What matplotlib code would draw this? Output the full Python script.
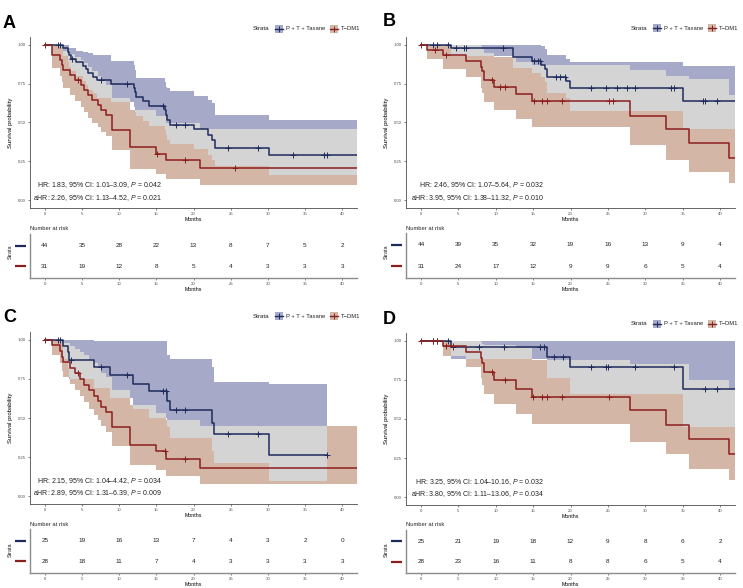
import matplotlib as mpl
import matplotlib.pyplot as plt
import numpy as np
from matplotlib.lines import Line2D
from matplotlib.patches import Rectangle

W, H = 743, 588

BLUE = "#1f2b5c"
RED = "#8b1e1e"
BLUE_FILL = "#a7a9c9"
RED_FILL = "#d4b6a7"
OVERLAP = "#d4d4d4"
INK = "#4d4d4d"

MONTH_TICKS = [0, 5, 10, 15, 20, 25, 30, 35, 40]
STRATA = ["P + T + Taxane", "T\u2212DM1"]

# ---- panel A ----
A_PTT_T = [2.4, 3.1, 3.3, 3.5, 4.2, 5.1, 5.5, 5.8, 6.5, 7.0, 8.9, 12.0, 12.1, 12.2, 13.2,
           14.0, 16.1, 16.3, 16.5, 16.8, 20.0, 22.0, 22.5, 22.9, 30.1]
A_PTT_S = [.977, .955, .932, .909, .886, .864, .841, .818, .795, .773, .75, .72, .695, .665,
           .636, .607, .578, .548, .519, .485, .455, .42, .385, .337, .29]
A_PTT_LO = [.93, .89, .86, .83, .80, .77, .74, .71, .69, .66, .63, .60, .57, .54, .51, .48,
            .45, .42, .39, .36, .33, .29, .26, .22, .164]
A_PTT_HI = [1.0, 1.0, .98, .98, .96, .955, .955, .95, .935, .935, .895, .87, .84, .785, .785,
            .785, .76, .73, .72, .70, .67, .647, .625, .55, .515]
A_PTT_CENS = [1.74, 2.1, 3.66, 7.54, 11.1, 15.9, 17.6, 18.9, 24.6, 28.7, 33.4, 37.5, 37.9]
A_PTT_END = 42.0
A_TDM1_T = [0.94, 2.1, 2.3, 2.5, 3.4, 4.0, 4.8, 5.2, 5.8, 6.4, 7.2, 7.5, 8.2, 9.0, 11.5,
            15.0, 16.3, 20.9]
A_TDM1_S = [.935, .903, .871, .839, .806, .774, .742, .71, .677, .645, .613, .58, .548, .452,
            .34, .30, .26, .21]
A_TDM1_LO = [.85, .80, .76, .72, .68, .64, .60, .57, .53, .50, .47, .44, .41, .32, .20, .17,
             .135, .095]
A_TDM1_HI = [1.0, .99, .98, .96, .94, .92, .90, .88, .86, .83, .80, .77, .74, .66, .58, .54,
             .50, .455]
A_TDM1_CENS = [0.0, 4.4, 15.1, 18.9, 25.6]
A_TDM1_END = 42.0
A_RISK_PTT = [44, 35, 28, 22, 13, 8, 7, 5, 2]
A_RISK_TDM1 = [31, 19, 12, 8, 5, 4, 3, 3, 3]
A_HR = ["HR: 1.83, 95% CI: 1.01\u20133.09, $P$ = 0.042",
        "aHR: 2.26, 95% CI: 1.13\u20134.52, $P$ = 0.021"]

# ---- panel B ----
B_PTT_T = [4.0, 12.3, 14.9, 16.1, 16.6, 16.9, 19.4, 19.9, 35.1]
B_PTT_S = [.977, .92, .895, .87, .845, .79, .765, .72, .64]
B_PTT_LO = [.93, .85, .82, .79, .76, .69, .66, .574, .46]
B_PTT_HI = [1.0, 1.0, 1.0, .99, .97, .935, .91, .89, .865]
B_PTT_CENS = [1.56, 2.1, 3.66, 4.7, 5.8, 6.0, 11.0, 15.1, 15.7, 15.9, 18.1, 18.6, 19.2, 22.7,
              24.8, 26.2, 27.5, 28.6, 33.5, 33.8, 37.7, 38.0, 39.6]
B_PTT_END = 42.0
B_TDM1_T = [0.76, 2.9, 6.0, 8.0, 8.2, 8.4, 9.8, 12.7, 14.8, 27.9, 32.8, 35.9, 41.2]
B_TDM1_S = [.968, .935, .895, .86, .83, .775, .73, .685, .64, .545, .455, .365, .27]
B_TDM1_LO = [.91, .845, .79, .72, .69, .63, .58, .525, .468, .355, .26, .18, .11]
B_TDM1_HI = [1.0, 1.0, 1.0, .99, .975, .95, .92, .89, .87, .84, .80, .78, .675]
B_TDM1_CENS = [0.0, 1.9, 3.4, 9.5, 10.6, 11.2, 15.1, 16.2, 16.9, 18.9, 25.2, 25.7]
B_TDM1_END = 42.0
B_RISK_PTT = [44, 39, 35, 32, 19, 16, 13, 9, 4]
B_RISK_TDM1 = [31, 24, 17, 12, 9, 9, 6, 5, 4]
B_HR = ["HR: 2.46, 95% CI: 1.07\u20135.64, $P$ = 0.032",
        "aHR: 3.95, 95% CI: 1.38\u201311.32, $P$ = 0.010"]

# ---- panel C ----
C_PTT_T = [2.4, 3.1, 3.3, 6.6, 8.7, 11.9, 14.0, 16.5, 16.8, 22.5, 22.7, 30.1]
C_PTT_S = [.96, .92, .87, .825, .775, .72, .67, .61, .55, .47, .395, .265]
C_PTT_LO = [.88, .82, .75, .69, .63, .56, .50, .44, .37, .29, .21, .10]
C_PTT_HI = [1.0, 1.0, 1.0, .99, .99, .99, .99, .90, .88, .825, .73, .72]
C_PTT_CENS = [1.74, 2.1, 3.5, 7.5, 11.1, 15.9, 16.3, 17.7, 18.9, 24.6, 28.7, 38.0]
C_PTT_END = 38.0
C_TDM1_T = [0.94, 2.1, 2.3, 2.5, 3.4, 4.1, 4.7, 5.3, 6.0, 6.6, 7.2, 7.5, 8.2, 9.0, 11.5,
            15.0, 16.3, 20.9]
C_TDM1_S = [.964, .929, .893, .857, .821, .786, .75, .714, .679, .643, .607, .571, .536, .445,
            .325, .29, .24, .18]
C_TDM1_LO = [.90, .85, .80, .76, .72, .68, .64, .60, .56, .52, .49, .45, .41, .32, .20, .17,
             .13, .078]
C_TDM1_HI = [1.0, 1.0, .99, .98, .96, .94, .92, .90, .87, .85, .82, .79, .76, .68, .58, .53,
             .49, .45]
C_TDM1_CENS = [0.0, 4.4, 16.2, 18.9]
C_TDM1_END = 42.0
C_RISK_PTT = [25, 19, 16, 13, 7, 4, 3, 2, 0]
C_RISK_TDM1 = [28, 18, 11, 7, 4, 3, 3, 3, 3]
C_HR = ["HR: 2.15, 95% CI: 1.04\u20134.42, $P$ = 0.034",
        "aHR: 2.89, 95% CI: 1.31\u20136.39, $P$ = 0.009"]

# ---- panel D ----
D_PTT_T = [4.0, 16.9, 19.9, 35.1]
D_PTT_S = [.96, .895, .83, .69]
D_PTT_LO = [.885, .765, .66, .45]
D_PTT_HI = [1.0, 1.0, 1.0, 1.0]
D_PTT_CENS = [1.65, 2.1, 3.66, 4.3, 7.7, 11.1, 15.9, 16.4, 17.8, 19.0, 22.7, 24.8, 25.0,
              28.6, 33.8, 38.0, 39.6]
D_PTT_END = 42.0
D_TDM1_T = [2.9, 6.0, 8.0, 8.2, 8.4, 9.8, 12.7, 14.8, 27.9, 32.8, 35.9, 41.2]
D_TDM1_S = [.964, .928, .89, .855, .80, .75, .695, .643, .555, .46, .37, .275]
D_TDM1_LO = [.90, .835, .76, .72, .657, .594, .53, .468, .355, .277, .18, .11]
D_TDM1_HI = [1.0, 1.0, .995, .98, .975, .975, .955, .88, .85, .85, .75, .69]
D_TDM1_CENS = [0.0, 1.65, 2.1, 3.4, 4.3, 9.5, 11.2, 15.0, 16.2, 16.9, 18.9, 25.2]
D_TDM1_END = 42.0
D_RISK_PTT = [25, 21, 19, 18, 12, 9, 8, 6, 2]
D_RISK_TDM1 = [28, 23, 16, 11, 8, 8, 6, 5, 4]
D_HR = ["HR: 3.25, 95% CI: 1.04\u201310.16, $P$ = 0.032",
        "aHR: 3.80, 95% CI: 1.11\u201313.06, $P$ = 0.034"]

mpl.rcParams.update(
    {
        "font.family": ["Liberation Sans", "DejaVu Sans"],
        "mathtext.fontset": "custom",
        "mathtext.rm": "Liberation Sans",
        "mathtext.it": "Liberation Sans:italic",
        "axes.spines.top": False,
        "axes.spines.right": False,
        "axes.edgecolor": INK,
        "axes.linewidth": 0.6,
    }
)


def box(l, t, r, b):
    """Pixel box (left, top, right, bottom) -> figure fraction rect."""
    return [l / W, 1 - b / H, (r - l) / W, (b - t) / H]


def step_at(t, v, end, x):
    tt = np.r_[0.0, t]
    vv = np.r_[1.0, v]
    x = np.asarray(x, dtype=float)
    out = vv[np.searchsorted(tt, x, side="right") - 1]
    return np.where(x > end + 1e-9, np.nan, out)


def draw_km(ax, groups, hr_lines, hr_x):
    # confidence ribbons
    for g in groups:
        tt = np.r_[0.0, g["t"], g["end"]]
        lo = np.r_[1.0, g["lo"], g["lo"][-1]]
        hi = np.r_[1.0, g["hi"], g["hi"][-1]]
        ax.fill_between(tt, lo, hi, step="post", color=g["fill"], lw=0, zorder=1)
    # overlap of both ribbons in grey
    b, r = groups
    grid = np.unique(np.r_[0.0, b["t"], b["end"], r["t"], r["end"]])
    lo = np.maximum(step_at(b["t"], b["lo"], b["end"], grid), step_at(r["t"], r["lo"], r["end"], grid))
    hi = np.minimum(step_at(b["t"], b["hi"], b["end"], grid), step_at(r["t"], r["hi"], r["end"], grid))
    hi = np.maximum(hi, lo)
    ax.fill_between(grid, lo, hi, step="post", color=OVERLAP, lw=0, zorder=2)
    # curves + censor marks
    for g in groups:
        tt = np.r_[0.0, g["t"], g["end"]]
        ss = np.r_[1.0, g["s"], g["s"][-1]]
        ax.step(tt, ss, where="post", color=g["line"], lw=1.1, zorder=3)
        cy = step_at(g["t"], g["s"], g["end"], g["cens"])
        ax.plot(g["cens"], cy, ls="none", marker="+", ms=4.2, mew=0.7, color=g["line"], zorder=4)

    ax.set_xlim(-2, 42)
    ax.set_ylim(-0.05, 1.05)
    ax.set_xticks(MONTH_TICKS)
    ax.set_yticks([0, 0.25, 0.5, 0.75, 1.0])
    ax.set_yticklabels(["0.00", "0.25", "0.50", "0.75", "1.00"])
    ax.tick_params(labelsize=3.1, length=1.6, width=0.5, pad=1.5, colors=INK)
    ax.set_xlabel("Months", fontsize=3.8, labelpad=0.6)
    ax.set_ylabel("Survival probability", fontsize=4.3, labelpad=3.5)
    ax.text(hr_x, 0.095, hr_lines[0], ha="right", va="center", fontsize=5.0, color="#222222")
    ax.text(hr_x, 0.017, hr_lines[1], ha="right", va="center", fontsize=5.0, color="#222222")


def draw_risk(ax, n_blue, n_red):
    ax.set_xlim(-2, 42)
    ax.set_ylim(2.55, 0.45)
    for x, a, c in zip(MONTH_TICKS, n_blue, n_red):
        ax.text(x, 1, str(a), ha="center", va="center", fontsize=4.6, color="#222222")
        ax.text(x, 2, str(c), ha="center", va="center", fontsize=4.6, color="#222222")
    ax.set_yticks([])
    ax.set_xticks(MONTH_TICKS)
    ax.tick_params(labelsize=3.1, length=1.6, width=0.5, pad=1.5, colors=INK)
    for sp in ("left", "bottom"):
        ax.spines[sp].set_color("#8c8c8c")
        ax.spines[sp].set_linewidth(1.0)
    ax.set_xlabel("Months", fontsize=3.8, labelpad=0.6)
    tr = ax.get_yaxis_transform()
    ax.plot([-0.046, -0.012], [1, 1], transform=tr, color=BLUE, lw=1.6, clip_on=False,
            solid_capstyle="butt")
    ax.plot([-0.046, -0.012], [2, 2], transform=tr, color=RED, lw=1.6, clip_on=False,
            solid_capstyle="butt")


def legend(fig, right, yc):
    def fx(x):
        return x / W

    def fy(y):
        return 1 - y / H

    fig.text(fx(right - 104), fy(yc), "Strata", fontsize=4.5, va="center", ha="left", color="#222222")
    for off, line, fill, lbl in ((-82, BLUE, BLUE_FILL, STRATA[0]), (-27, RED, RED_FILL, STRATA[1])):
        x0 = right + off
        fig.add_artist(Rectangle((fx(x0), fy(yc + 4)), 8 / W, 8 / H, transform=fig.transFigure,
                                 facecolor=fill, edgecolor="none"))
        fig.add_artist(Line2D([fx(x0), fx(x0 + 8)], [fy(yc), fy(yc)], transform=fig.transFigure,
                              color=line, lw=1.0))
        fig.add_artist(Line2D([fx(x0 + 4)], [fy(yc)], transform=fig.transFigure, color=line,
                              marker="+", ms=4.2, mew=0.7, ls="none"))
        fig.text(fx(x0 + 11), fy(yc), lbl, fontsize=4.2, va="center", ha="left", color="#222222")


def group(t, s, lo, hi, cens, end, line, fill):
    return {"t": np.array(t), "s": np.array(s), "lo": np.array(lo), "hi": np.array(hi),
            "cens": np.array(cens), "end": end, "line": line, "fill": fill}


panels = [
    ("A", (30, 37, 357, 208), (30, 234, 357, 278), 15.8, 29, (3, 23), 228, 252,
     group(A_PTT_T, A_PTT_S, A_PTT_LO, A_PTT_HI, A_PTT_CENS, A_PTT_END, BLUE, BLUE_FILL),
     group(A_TDM1_T, A_TDM1_S, A_TDM1_LO, A_TDM1_HI, A_TDM1_CENS, A_TDM1_END, RED, RED_FILL),
     A_RISK_PTT, A_RISK_TDM1, A_HR),
    ("B", (406, 37, 735, 208), (406, 233, 735, 278), 16.5, 28, (383, 21), 228, 252,
     group(B_PTT_T, B_PTT_S, B_PTT_LO, B_PTT_HI, B_PTT_CENS, B_PTT_END, BLUE, BLUE_FILL),
     group(B_TDM1_T, B_TDM1_S, B_TDM1_LO, B_TDM1_HI, B_TDM1_CENS, B_TDM1_END, RED, RED_FILL),
     B_RISK_PTT, B_RISK_TDM1, B_HR),
    ("C", (30, 332, 357, 504), (30, 529, 357, 573), 15.8, 316, (3, 318), 524, 550,
     group(C_PTT_T, C_PTT_S, C_PTT_LO, C_PTT_HI, C_PTT_CENS, C_PTT_END, BLUE, BLUE_FILL),
     group(C_TDM1_T, C_TDM1_S, C_TDM1_LO, C_TDM1_HI, C_TDM1_CENS, C_TDM1_END, RED, RED_FILL),
     C_RISK_PTT, C_RISK_TDM1, C_HR),
    ("D", (406, 333, 735, 505), (406, 530, 735, 573), 16.5, 324, (383, 319), 524, 550,
     group(D_PTT_T, D_PTT_S, D_PTT_LO, D_PTT_HI, D_PTT_CENS, D_PTT_END, BLUE, BLUE_FILL),
     group(D_TDM1_T, D_TDM1_S, D_TDM1_LO, D_TDM1_HI, D_TDM1_CENS, D_TDM1_END, RED, RED_FILL),
     D_RISK_PTT, D_RISK_TDM1, D_HR),
]

fig = plt.figure(figsize=(W / 100, H / 100), dpi=100)
for (letter, main_box, risk_box, hr_x, leg_y, let_xy, nar_y, strata_y,
     g_blue, g_red, n_blue, n_red, hr) in panels:
    ax = fig.add_axes(box(*main_box))
    draw_km(ax, [g_blue, g_red], hr, hr_x)
    rax = fig.add_axes(box(*risk_box))
    draw_risk(rax, n_blue, n_red)
    left = main_box[0]
    fig.text(let_xy[0] / W, 1 - let_xy[1] / H, letter, fontsize=13, fontweight="bold",
             ha="left", va="center")
    fig.text(left / W, 1 - nar_y / H, "Number at risk", fontsize=4.2, ha="left", va="center",
             color="#222222")
    fig.text((left - 20) / W, 1 - strata_y / H, "Strata", fontsize=4.0, rotation=90,
             ha="center", va="center", color="#222222")
    legend(fig, main_box[2], leg_y)

fig.savefig("out.png", dpi=100)
